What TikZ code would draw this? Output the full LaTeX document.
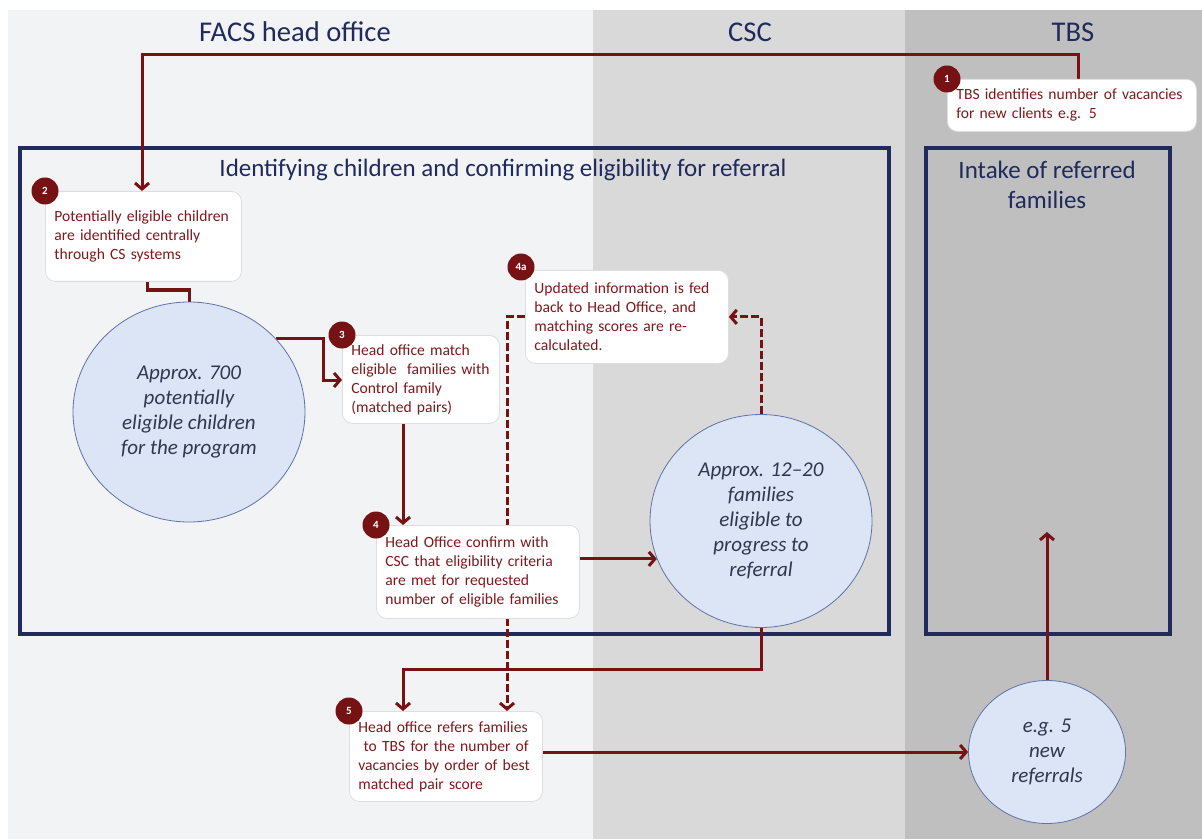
\documentclass[tikz,border=0pt]{standalone}
\usepackage{fontspec}
\setmainfont{Carlito}
\usetikzlibrary{arrows.meta,shapes.geometric}

\definecolor{bandA}{RGB}{242,243,245}
\definecolor{bandB}{RGB}{217,217,217}
\definecolor{bandC}{RGB}{191,191,191}
\definecolor{navy}{RGB}{32,42,92}
\definecolor{arrowred}{RGB}{118,18,20}
\definecolor{textred}{RGB}{128,24,28}
\definecolor{circfill}{RGB}{219,229,245}
\definecolor{circline}{RGB}{95,115,170}
\definecolor{circtext}{RGB}{50,55,80}
\definecolor{boxline}{RGB}{222,222,222}

\pgfdeclarelayer{bands}
\pgfdeclarelayer{links}
\pgfsetlayers{bands,links,main}

\tikzset{
  lane/.style={text=navy, font=\fontsize{14.3}{16}\selectfont},
  grouptitle/.style={text=navy, align=center, font=\fontsize{12.5}{15}\selectfont},
  group/.style={draw=navy, line width=1.8pt, inner sep=0pt},
  stepbox/.style={draw=boxline, fill=white, rounded corners=5pt, anchor=north west,
    align=left, inner xsep=4.5pt, inner ysep=0pt, text=textred,
    font=\fontsize{7.8}{9.5}\selectfont},
  badge/.style={circle, fill=arrowred, text=white, minimum size=13.5pt, inner sep=0pt,
    font=\fontsize{5.5}{6}\selectfont\bfseries},
  blob/.style={ellipse, draw=circline, fill=circfill, inner sep=0pt, align=center,
    text=circtext, font=\fontsize{10.5}{12.6}\selectfont\itshape},
  link/.style={draw=arrowred, line width=1.5pt},
  flow/.style={link, -{Straight Barb[length=3pt,width=7pt]}},
  flowd/.style={flow, dash pattern=on 4pt off 1.5pt},
}

\begin{document}
\begin{tikzpicture}[x=0.5pt, y=-0.5pt]
  \useasboundingbox (0,0) rectangle (1202,839);

  \begin{pgfonlayer}{bands}
    \fill[white] (0,0) rectangle (1202,839);
    \fill[bandA] (8,10) rectangle (593,839);
    \fill[bandB] (593,10) rectangle (905,839);
    \fill[bandC] (905,10) rectangle (1202,839);
    \node[group, minimum width=434.5pt, minimum height=243pt] (grpA) at (454.5,391) {};
    \node[group, minimum width=122pt, minimum height=243pt] (grpB) at (1048,391) {};
  \end{pgfonlayer}

  \node[lane] (hA) at (295,32) {FACS head office};
  \node[lane] (hB) at (750,32) {CSC};
  \node[lane] (hC) at (1073,32) {TBS};

  \node[grouptitle] (tA) at (503,170) {Identifying children and confirming eligibility for referral};
  \node[grouptitle] (tB) at (1047,185) {Intake of referred\\families};

  \node[stepbox, text width=115.5pt, minimum height=26pt] (s1) at (947,79)
    {TBS identifies number of vacancies\\for new clients e.g. 5};
  \node[stepbox, text width=89pt, minimum height=45pt] (s2) at (45,191)
    {Potentially eligible children\\are identified centrally\\through CS systems};
  \node[stepbox, text width=69.5pt, minimum height=44pt] (s3) at (342,335)
    {Head office match\\eligible\ \ families with\\Control family\\(matched pairs)};
  \node[stepbox, text width=92.5pt, minimum height=46.5pt] (s4) at (376,525)
    {Head Office confirm with\\CSC that eligibility criteria\\are met for requested\\number of eligible families};
  \node[stepbox, text width=92.5pt, minimum height=46.5pt] (s4a) at (525,270)
    {Updated information is fed\\back to Head Office, and\\matching scores are re-\\calculated.};
  \node[stepbox, text width=87.5pt, minimum height=45pt] (s5) at (349,711)
    {Head office refers families\\\ to TBS for the number of\\vacancies by order of best\\matched pair score};

  \node[badge] (b1) at (s1.north west) {1};
  \node[badge] (b2) at (s2.north west) {2};
  \node[badge] (b3) at (s3.north west) {3};
  \node[badge] (b4) at (s4.north west) {4};
  \node[badge] (b4a) at ([xshift=-2pt,yshift=1.5pt]s4a.north west) {4a};
  \node[badge] (b5) at (s5.north west) {5};

  \node[blob, minimum width=116pt, minimum height=110pt] (c700) at (189,412)
    {Approx. 700\\potentially\\eligible children\\for the program};
  \node[blob, minimum width=111pt, minimum height=106.5pt] (c1220) at (761,521)
    {Approx. 12--20\\families\\eligible to\\progress to\\referral};
  \node[blob, minimum width=78.5pt, minimum height=71.5pt] (c5) at (1047,752)
    {e.g. 5\\new\\referrals};

  \begin{pgfonlayer}{links}
    \coordinate (top1) at (1078,55);
    \coordinate (top2) at (142,55);
    \draw[flow] (s1.north -| top1) -- (top1) -- (top2) -- (s2.north -| top2);

    \coordinate (j2) at (147,290);
    \draw[link] (s2.south -| j2) -- (j2) -| (c700.north);

    \coordinate (j3) at (323,380);
    \draw[flow] (c700.40) -| (j3) -- (s3.west |- j3);

    \coordinate (j4) at (403,470);
    \draw[flow] (s3.south -| j4) -- (s4.north -| j4);

    \draw[flow] (s4.east |- c1220.200) -- (c1220.200);

    \draw[flowd] (c1220.north) |- (s4a.east);

    \coordinate (j7) at (507,500);
    \draw[flowd] (s4a.west) -| (s5.north -| j7);

    \coordinate (j8) at (403,669);
    \draw[flow] (c1220.south) |- (j8) -- (s5.north -| j8);

    \draw[flow] (s5.east |- c5.west) -- (c5.west);

    \coordinate (in) at (1047,532);
    \draw[flow] (c5.north) -- (in);
  \end{pgfonlayer}
\end{tikzpicture}
\end{document}
